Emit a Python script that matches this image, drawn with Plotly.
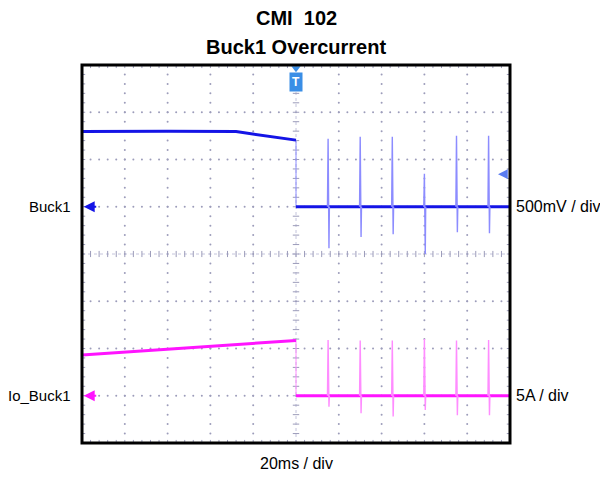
import plotly.graph_objects as go
import numpy as np

# ---------------- data ----------------
title_lines = ["CMI\u00a0 102", "Buck1 Overcurrent"]
ch_names = ["Buck1", "Io_Buck1"]
ch_scales = ["500mV / div", "5A / div"]
time_scale = "20ms / div"

# Buck1 voltage (V), time in ms
v_pre_t = [-100, -60, -28, 0]
v_pre = [0.795, 0.80, 0.795, 0.705]
v_post_t = [0, 100]
v_post = [0.0, 0.0]
# Io_Buck1 current (A)
i_pre_t = [-100, -50, 0]
i_pre = [4.3, 5.05, 5.85]
i_post_t = [0, 100]
i_post = [0.0, 0.0]
# transient spikes after trigger
spike_t = [15, 30, 45, 60, 75, 90]
v_spike_hi = [0.72, 0.74, 0.74, 0.35, 0.75, 0.75]
v_spike_lo = [-0.44, -0.32, -0.29, -0.50, -0.27, -0.28]
i_spike_hi = [5.9, 5.85, 5.85, 6.0, 5.85, 5.9]
i_spike_lo = [-1.15, -1.85, -2.2, -1.5, -2.05, -2.05]
trig_level = 0.345

# scales
V_DIV = 0.5
A_DIV = 5.0
V_OFF = 1   # ground position in divisions
A_OFF = -3
MS_DIV = 20

BLUE = "#1414e6"
BLUE_L = "#8c8cff"
PINK = "#ff14ff"
PINK_L = "#ff8cff"
GRID = "#9c9cba"

fig = go.Figure()

# ---------------- graticule ----------------
gx, gy = [], []
for i in range(-4, 5):
    if i == 0:
        continue
    for yy in np.arange(-4, 4.001, 0.2):
        gx.append(i * MS_DIV); gy.append(yy)
for j in range(-3, 4):
    if j == 0:
        continue
    for xx in np.arange(-5, 5.001, 0.2):
        gx.append(xx * MS_DIV); gy.append(j)
fig.add_trace(go.Scatter(x=gx, y=gy, mode="markers", yaxis="y",
                         marker=dict(size=2, color=GRID), hoverinfo="skip",
                         showlegend=False))

# center crosshair lines
fig.add_trace(go.Scatter(x=[-100, 100, None, 0, 0], y=[0, 0, None, -4, 4],
                         mode="lines", yaxis="y",
                         line=dict(color="#c4c4dc", width=1, dash="dot"),
                         hoverinfo="skip", showlegend=False))
# ticks on center lines and border
tx, ty = [], []
hx = 0.075 * MS_DIV
hy = 0.065
for xx in np.arange(-5, 5.001, 0.2):
    X = xx * MS_DIV
    tx += [X, X, None]; ty += [-hy, hy, None]
    tx += [X, X, None]; ty += [4, 4 - hy, None]
    tx += [X, X, None]; ty += [-4, -4 + hy, None]
for yy in np.arange(-4, 4.001, 0.2):
    tx += [-hx, hx, None]; ty += [yy, yy, None]
    tx += [-100, -100 + hx, None]; ty += [yy, yy, None]
    tx += [100, 100 - hx, None]; ty += [yy, yy, None]
fig.add_trace(go.Scatter(x=tx, y=ty, mode="lines", yaxis="y",
                         line=dict(color=GRID, width=1), hoverinfo="skip",
                         showlegend=False))

# ---------------- Buck1 ----------------
fig.add_trace(go.Scatter(x=[0, 0], y=[v_pre[-1], v_post[0]], mode="lines", yaxis="y2",
                         line=dict(color=BLUE_L, width=1), showlegend=False))
fig.add_trace(go.Scatter(x=v_pre_t, y=v_pre, mode="lines", yaxis="y2",
                         line=dict(color=BLUE, width=3), showlegend=False))
fig.add_trace(go.Scatter(x=v_post_t, y=v_post, mode="lines", yaxis="y2",
                         line=dict(color=BLUE, width=3), showlegend=False))
sx, sy = [], []
for t, hi, lo in zip(spike_t, v_spike_hi, v_spike_lo):
    sx += [t - 0.3, t, t + 0.4, t + 0.6, None]
    sy += [0, hi, lo, 0, None]
fig.add_trace(go.Scatter(x=sx, y=sy, mode="lines", yaxis="y2",
                         line=dict(color=BLUE_L, width=1.4), showlegend=False))

# ---------------- Io_Buck1 ----------------
fig.add_trace(go.Scatter(x=[0, 0], y=[i_pre[-1], i_post[0]], mode="lines", yaxis="y3",
                         line=dict(color=PINK_L, width=1), showlegend=False))
fig.add_trace(go.Scatter(x=i_pre_t, y=i_pre, mode="lines", yaxis="y3",
                         line=dict(color=PINK, width=3), showlegend=False))
fig.add_trace(go.Scatter(x=i_post_t, y=i_post, mode="lines", yaxis="y3",
                         line=dict(color=PINK, width=3), showlegend=False))
sx, sy = [], []
for t, hi, lo in zip(spike_t, i_spike_hi, i_spike_lo):
    sx += [t - 0.3, t, t + 0.4, t + 0.6, None]
    sy += [0, hi, lo, 0, None]
fig.add_trace(go.Scatter(x=sx, y=sy, mode="lines", yaxis="y3",
                         line=dict(color=PINK_L, width=1.4), showlegend=False))

# trigger marker triangle
fig.add_trace(go.Scatter(x=[0], y=[3.93], mode="markers", yaxis="y", cliponaxis=False,
                         marker=dict(symbol="triangle-down", size=8, color="#3a8ee6"),
                         hoverinfo="skip", showlegend=False))

FONT = "Liberation Sans, Arial, sans-serif"
ann = []
ann.append(dict(x=0.5, y=1.124, xref="paper", yref="paper", text="<b>%s</b>" % title_lines[0],
                showarrow=False, font=dict(size=20, family=FONT, color="black"),
                xanchor="center", yanchor="middle"))
ann.append(dict(x=0.5, y=1.0476, xref="paper", yref="paper", text="<b>%s</b>" % title_lines[1],
                showarrow=False, font=dict(size=20, family=FONT, color="black"),
                xanchor="center", yanchor="middle"))
ann.append(dict(x=0.5, y=-0.053, xref="paper", yref="paper", text=time_scale,
                showarrow=False, font=dict(size=16, family=FONT, color="black"),
                xanchor="center", yanchor="middle"))
for name, sc, yref, col in [(ch_names[0], ch_scales[0], "y2", BLUE),
                            (ch_names[1], ch_scales[1], "y3", PINK)]:
    ann.append(dict(x=0, y=0, xref="paper", yref=yref, text=name, showarrow=False,
                    font=dict(size=15, family=FONT, color="black"),
                    xanchor="right", yanchor="middle", xshift=-9))
    ann.append(dict(x=1, y=0, xref="paper", yref=yref, text=sc, showarrow=False,
                    font=dict(size=16, family=FONT, color="black"),
                    xanchor="left", yanchor="middle", xshift=4))
    ann.append(dict(x=0.004, y=0, xref="paper", yref=yref, text="", showarrow=True,
                    arrowhead=2, arrowsize=1.1, arrowwidth=2, arrowcolor=col,
                    ax=14, ay=0))
# trigger level marker
ann.append(dict(x=0.972, y=trig_level, xref="paper", yref="y2", text="", showarrow=True,
                arrowhead=2, arrowsize=1.3, arrowwidth=1.5, arrowcolor="#5a7cf0",
                ax=10, ay=0))
# trigger badge
ann.append(dict(x=0, y=1, xref="x", yref="paper", text="<b>T</b>", showarrow=False,
                font=dict(size=12, family=FONT, color="white"), bgcolor="#3a8ee6",
                borderpad=2, xanchor="center", yanchor="top", yshift=-7))

fig.update_layout(
    width=600, height=477,
    margin=dict(l=82, r=90, t=65, b=34),
    paper_bgcolor="white", plot_bgcolor="white",
    xaxis=dict(range=[-100, 100], visible=False, fixedrange=True),
    yaxis=dict(range=[-4, 4], visible=False, fixedrange=True),
    yaxis2=dict(range=[(-4 - V_OFF) * V_DIV, (4 - V_OFF) * V_DIV], overlaying="y",
                visible=False, fixedrange=True),
    yaxis3=dict(range=[(-4 - A_OFF) * A_DIV, (4 - A_OFF) * A_DIV], overlaying="y",
                visible=False, fixedrange=True),
    annotations=ann,
    shapes=[dict(type="rect", xref="paper", yref="paper", x0=0, x1=1, y0=0, y1=1,
                 line=dict(color="black", width=3), layer="above")],
    showlegend=False,
)

fig.write_html("out.html", config={"displayModeBar": False},
               post_script="document.body.style.margin='0';document.body.style.overflow='hidden';")
